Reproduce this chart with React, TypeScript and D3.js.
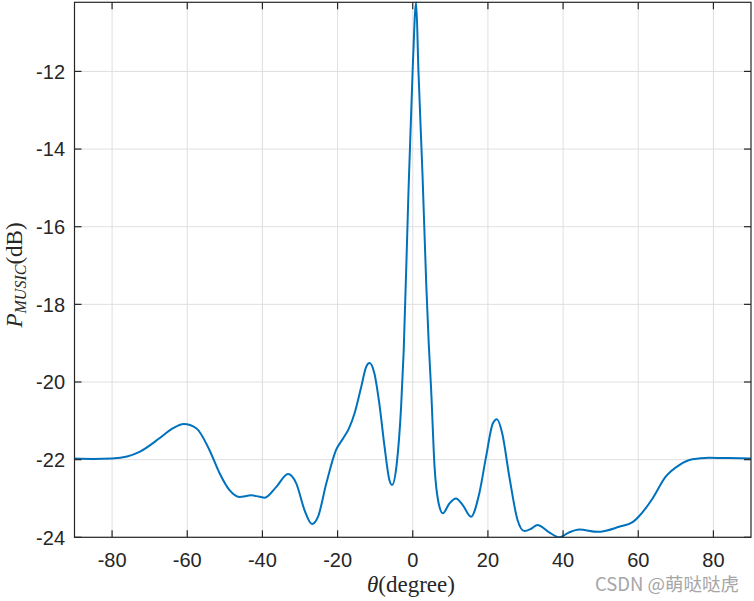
import React from "react";
import * as d3 from "d3";

const thetaDeg = [
  -90, -85, -80, -76, -72.7, -67.4, -64, -60.9, -57.6, -54.1, -51.4, -48.8, -46.1, -43.0, -41, -39.4,
  -36.3, -33.2, -31.0, -28.8, -26.8, -25.2, -23.0, -20.4, -18.5, -17.0, -15.5, -13.7, -12.4, -11.5,
  -10.2, -8.9, -7.5, -6.2, -5.5, -4.3, -3.1, -2.4, -1.2, 0.0, 0.9, 1.5, 2.6, 3.6, 4.25, 4.9, 5.8, 6.9,
  8.0, 9.75, 11.5, 13.3, 15.5, 17.7, 19.5, 21.3, 22.4, 23.8, 25.7, 27.9, 29.7, 31.5, 33.2, 36.1, 39.0,
  41.5, 44.3, 49.2, 54.9, 58.5, 60.1, 62.0, 63.8, 67.3, 70.9, 74.4, 78.9, 84, 90,
];
const pMusicDb = [
  -21.97, -21.98, -21.97, -21.92, -21.8, -21.45, -21.2, -21.08, -21.19, -21.75, -22.35, -22.78, -22.96,
  -22.92, -22.95, -22.98, -22.7, -22.37, -22.61, -23.3, -23.66, -23.47, -22.61, -21.75, -21.45, -21.2,
  -20.81, -20.12, -19.61, -19.51, -19.78, -20.55, -21.67, -22.53, -22.65, -22.14, -20.64, -19.18,
  -15.3, -11.9, -10.22, -11.95, -14.67, -17.5, -19.0, -20.21, -22.18, -23.13, -23.38, -23.13, -23.0,
  -23.17, -23.47, -22.87, -21.93, -21.07, -20.96, -21.32, -22.44, -23.56, -23.84, -23.78, -23.68,
  -23.86, -24.0, -23.88, -23.8, -23.86, -23.73, -23.61, -23.47, -23.25, -23.0, -22.44, -22.14, -21.99,
  -21.95, -21.96, -21.97,
];
const xTicks = [-80, -60, -40, -20, 0, 20, 40, 60, 80];
const yTicks = [-24, -22, -20, -18, -16, -14, -12];

const W = 754;
const H = 601;
const left = 74.5;
const right = 751;
const top = 2.3;
const bottom = 537.3;
const axisColor = "#262626";
const gridColor = "#dfdfdf";
const lineColor = "#0072BD";
const tickFont = "Arial, 'Liberation Sans', Helvetica, sans-serif";
const serif = "'Liberation Serif', 'DejaVu Serif', 'Times New Roman', serif";

export default function App() {
  const x = d3.scaleLinear().domain([-90, 90]).range([left, right]);
  const yMax = d3.max(pMusicDb) as number;
  const y = d3.scaleLinear().domain([-24, yMax]).range([bottom, top]);
  const pts: [number, number][] = thetaDeg.map((t, i) => [t, pMusicDb[i]]);
  const line = d3
    .line<[number, number]>()
    .x((d) => x(d[0]))
    .y((d) => y(d[1]))
    .curve(d3.curveMonotoneX);
  const tickLen = 7;

  return (
    <div style={{ position: "absolute", left: 0, top: 0 }}>
      <svg width={W} height={H} style={{ display: "block", background: "#fff" }}>
        <rect x={0} y={0} width={W} height={H} fill="#fff" />
        <g>
          {xTicks.map((t) => (
            <line key={"gx" + t} x1={x(t)} x2={x(t)} y1={top} y2={bottom} stroke={gridColor} strokeWidth={1} />
          ))}
          {yTicks.map((t) => (
            <line key={"gy" + t} x1={left} x2={right} y1={y(t)} y2={y(t)} stroke={gridColor} strokeWidth={1} />
          ))}
        </g>
        <defs>
          <clipPath id="plotclip">
            <rect x={left} y={top - 2} width={right - left} height={bottom - top + 2} />
          </clipPath>
        </defs>
        <path d={line(pts) || ""} fill="none" stroke={lineColor} strokeWidth={2} strokeLinejoin="round" clipPath="url(#plotclip)" />
        <rect x={left} y={top} width={right - left} height={bottom - top} fill="none" stroke={axisColor} strokeWidth={1.2} />
        <g stroke={axisColor} strokeWidth={1.2}>
          {xTicks.map((t) => (
            <g key={"tx" + t}>
              <line x1={x(t)} x2={x(t)} y1={bottom} y2={bottom - tickLen} />
              <line x1={x(t)} x2={x(t)} y1={top} y2={top + tickLen} />
            </g>
          ))}
          {yTicks.map((t) => (
            <g key={"ty" + t}>
              <line x1={left} x2={left + tickLen} y1={y(t)} y2={y(t)} />
              <line x1={right} x2={right - tickLen} y1={y(t)} y2={y(t)} />
            </g>
          ))}
        </g>
        <g fill={axisColor} fontFamily={tickFont} fontSize={20}>
          {xTicks.map((t) => (
            <text key={"lx" + t} x={x(t)} y={567} textAnchor="middle">
              {String(t)}
            </text>
          ))}
          {yTicks.map((t) => (
            <text key={"ly" + t} x={65} y={y(t) + 7.2} textAnchor="end">
              {String(t)}
            </text>
          ))}
        </g>
        <text x={411} y={592} textAnchor="middle" fontFamily={serif} fontSize={23} fill={axisColor}>
          <tspan fontStyle="italic">θ</tspan>
          <tspan>(degree)</tspan>
        </text>
        <text
          transform={`translate(22, 275) rotate(-90)`}
          textAnchor="middle"
          fontFamily={serif}
          fontSize={23}
          fill={axisColor}
        >
          <tspan fontStyle="italic">P</tspan>
          <tspan fontStyle="italic" fontSize={16} dy={4}>MUSIC</tspan>
          <tspan dy={-4}>(dB)</tspan>
        </text>
        <text x={739} y={591} textAnchor="end" fontFamily="'Noto Sans CJK SC', 'Noto Sans', sans-serif" fontSize={18.5} fill="#a6a6a6">
          CSDN @萌哒哒虎
        </text>
      </svg>
    </div>
  );
}
